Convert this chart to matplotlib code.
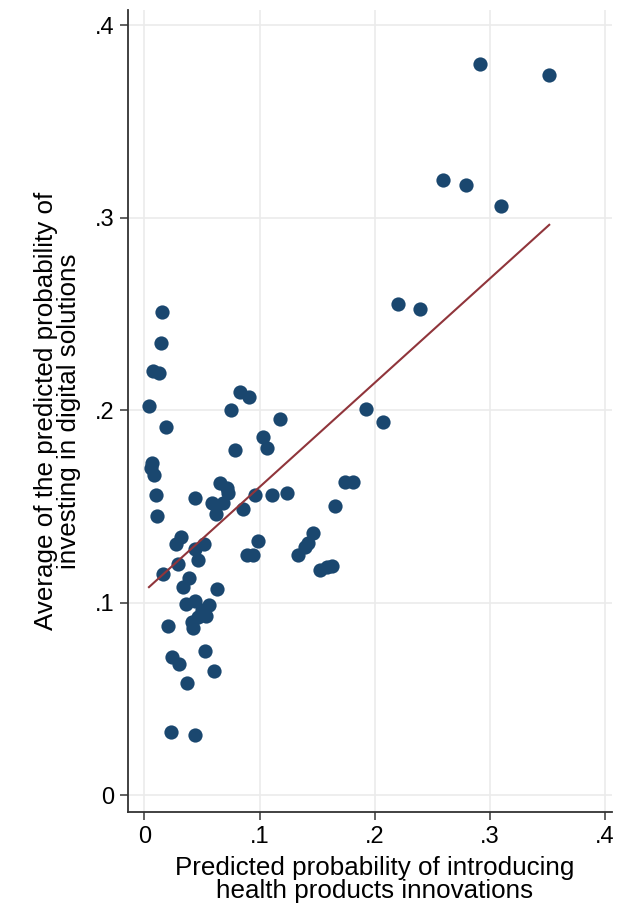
import matplotlib
matplotlib.use("Agg")
import matplotlib.pyplot as plt
import numpy as np

plt.rcParams['font.family'] = ['Liberation Sans', 'DejaVu Sans']

# predicted probability of introducing health products innovations
prob_innov = [0.2915, 0.3515, 0.2594, 0.2793, 0.3098, 0.2203, 0.2394, 0.1925, 0.2075, 0.1742,
              0.1809, 0.1655, 0.1467, 0.1423, 0.1394, 0.1336, 0.1525, 0.1583, 0.1626, 0.1240,
              0.1177, 0.0155, 0.0143, 0.0071, 0.0129, 0.0039, 0.0184, 0.0830, 0.0908, 0.0752,
              0.1027, 0.1067, 0.0786, 0.0062, 0.0054, 0.0080, 0.0656, 0.0714, 0.0728, 0.0100,
              0.0439, 0.0960, 0.1105, 0.0584, 0.0685, 0.0621, 0.0853, 0.0106, 0.0315, 0.0274,
              0.0517, 0.0439, 0.0989, 0.0888, 0.0946, 0.0468, 0.0288, 0.0163, 0.0389, 0.0337,
              0.0627, 0.0361, 0.0439, 0.0563, 0.0497, 0.0534, 0.0468, 0.0410, 0.0424, 0.0207,
              0.0526, 0.0242, 0.0300, 0.0607, 0.0372, 0.0233, 0.0442]
# average predicted probability of investing in digital solutions
prob_digital = [0.3797, 0.3740, 0.3195, 0.3169, 0.3060, 0.2550, 0.2525, 0.2005, 0.1940, 0.1624,
                0.1624, 0.1500, 0.1359, 0.1307, 0.1290, 0.1247, 0.1169, 0.1186, 0.1190, 0.1570,
                0.1956, 0.2507, 0.2346, 0.2204, 0.2190, 0.2023, 0.1910, 0.2095, 0.2069, 0.2000,
                0.1861, 0.1803, 0.1792, 0.1723, 0.1697, 0.1662, 0.1620, 0.1593, 0.1570, 0.1558,
                0.1541, 0.1558, 0.1558, 0.1519, 0.1515, 0.1458, 0.1484, 0.1449, 0.1342, 0.1304,
                0.1304, 0.1278, 0.1319, 0.1245, 0.1245, 0.1221, 0.1200, 0.1148, 0.1126, 0.1082,
                0.1070, 0.0991, 0.1009, 0.0987, 0.0961, 0.0930, 0.0926, 0.0900, 0.0866, 0.0880,
                0.0748, 0.0715, 0.0679, 0.0646, 0.0580, 0.0329, 0.0312]

# linear fit
fit_intercept = 0.1059
fit_slope = 0.5414

ticks = [0, 0.1, 0.2, 0.3, 0.4]
tick_labels = ['0', '.1', '.2', '.3', '.4']

fig = plt.figure(figsize=(6.18, 9.06), dpi=100)
ax = fig.add_axes([128/618, 1 - 812/906, (612 - 128)/618, (812 - 10)/906])

ax.scatter(prob_innov, prob_digital, s=105, color='#1a476f', linewidths=0, zorder=3)

xs = np.array([min(prob_innov), max(prob_innov)])
ax.plot(xs, fit_intercept + fit_slope * xs, color='#90353b', lw=1.5, zorder=4)

ax.set_xlim(-0.0143, 0.406)
ax.set_ylim(-0.0088, 0.4078)
ax.set_xticks(ticks)
ax.set_xticklabels(tick_labels)
ax.set_yticks(ticks)
ax.set_yticklabels(tick_labels)
ax.grid(True, color='#ebebeb', lw=1.2, zorder=0)
ax.set_axisbelow(True)

for s in ['top', 'right']:
    ax.spines[s].set_visible(False)
for s in ['left', 'bottom']:
    ax.spines[s].set_linewidth(1.3)
    ax.spines[s].set_color('#333333')
ax.tick_params(axis='both', length=6, width=1.3, color='#555555', labelsize=17, pad=4)

ax.set_xlabel('Predicted probability of introducing\nhealth products innovations',
              fontsize=18.7, linespacing=0.95, labelpad=6)
ax.xaxis.set_label_coords(0.51, -0.055)
ax.xaxis.label.set_va('top')
ax.set_ylabel('Average of the predicted probability of\ninvesting in digital solutions',
              fontsize=18.7, linespacing=0.93, labelpad=10)

fig.savefig('out.png', dpi=100)
